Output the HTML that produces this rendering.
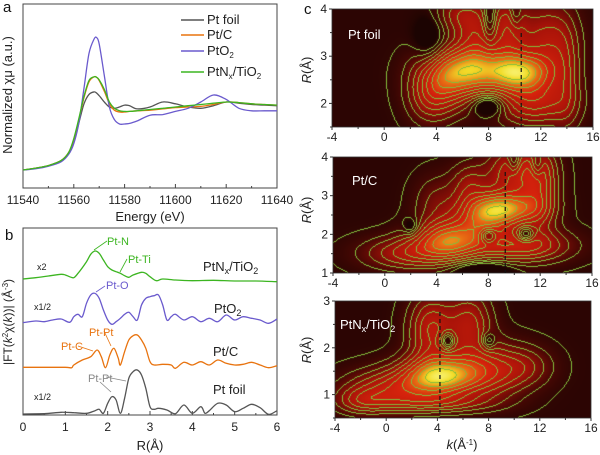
<!DOCTYPE html>
<html><head><meta charset="utf-8"><style>
body{margin:0;background:#fff;}
#root{position:relative;width:600px;height:455px;overflow:hidden;font-family:"Liberation Sans",Arial,sans-serif;}
svg{position:absolute;left:0;top:0;}
canvas{position:absolute;}
</style></head><body>
<div id="root">
<canvas id="c1" width="261" height="118" style="left:332px;top:9px"></canvas>
<canvas id="c2" width="259" height="116" style="left:333px;top:157px"></canvas>
<canvas id="c3" width="256" height="117" style="left:335px;top:301px"></canvas>
<svg id="s" width="600" height="455"></svg>
</div>
<script>
// ---- Panel a data ----
const energies=[11540,11545,11550,11555,11558,11560,11562,11564,11566,11568,11569,11570,11572,11574,11576,11578,11580,11582,11585,11590,11595,11600,11605,11610,11615,11620,11625,11630,11635,11640];
const xanesFoil=[0,0.03,0.07,0.15,0.27,0.45,0.75,1.05,1.2,1.24,1.22,1.18,1.08,1.0,0.98,1.0,1.03,1.02,0.97,1.0,1.08,1.05,1.0,0.98,1.02,1.08,1.06,1.04,1.03,1.02];
const xanesPtC=[0,0.03,0.07,0.15,0.28,0.48,0.8,1.15,1.4,1.48,1.47,1.42,1.25,1.05,0.95,0.92,0.92,0.93,0.94,0.95,0.97,0.99,1.0,1.01,1.04,1.08,1.07,1.05,1.04,1.03];
const xanesPtO2=[0,0.02,0.06,0.13,0.25,0.42,0.75,1.3,1.85,2.08,2.1,2.0,1.5,1.0,0.8,0.73,0.73,0.74,0.78,0.87,0.88,0.93,0.98,1.08,1.19,1.12,0.98,0.94,0.94,0.94];
const xanesPtNx=[0,0.03,0.07,0.15,0.28,0.5,0.82,1.17,1.42,1.48,1.47,1.43,1.28,1.08,0.98,0.94,0.93,0.93,0.94,0.96,0.98,1.0,1.02,1.04,1.06,1.08,1.07,1.05,1.04,1.03];
const energyTicks=[11540,11560,11580,11600,11620,11640];
// ---- Panel b data ----
const rFoil=[0,0.5,0.9,1.2,1.5,1.7,1.8,1.9,2.0,2.1,2.2,2.3,2.4,2.5,2.6,2.7,2.8,2.9,3.0,3.1,3.2,3.4,3.6,3.8,4.0,4.2,4.3,4.4,4.6,4.8,5.0,5.2,5.4,5.6,5.8,6.0];
const ftFoil=[3,4,8,7,5,13,17,5,35,55,45,5,50,110,130,135,120,80,25,17,20,15,4,30,5,25,5,13,35,30,10,20,32,22,2,13];
const rPtC=[0,0.5,1.0,1.15,1.2,1.4,1.6,1.75,1.85,1.95,2.05,2.15,2.25,2.3,2.4,2.5,2.6,2.7,2.8,2.9,3.0,3.1,3.3,3.5,3.6,3.8,4.0,4.2,4.4,4.6,4.8,5.0,5.2,5.4,5.6,5.8,6.0];
const ftPtC=[143,143,143,142,150,165,175,195,175,142,180,200,170,150,190,225,238,240,225,200,160,150,152,150,140,158,150,160,150,165,155,150,152,158,150,142,148];
const rPtO2=[0,0.3,0.5,0.7,0.9,1.1,1.2,1.3,1.4,1.5,1.6,1.7,1.8,1.9,2.0,2.1,2.2,2.3,2.4,2.5,2.6,2.7,2.8,2.9,3.0,3.1,3.2,3.3,3.4,3.5,3.6,3.8,4.0,4.2,4.4,4.6,4.8,5.0,5.2,5.4,5.6,5.8,6.0];
const ftPtO2=[277,282,280,285,288,278,295,302,295,335,360,365,350,315,285,272,280,290,302,308,295,285,330,350,355,358,360,330,285,295,302,285,295,280,290,280,300,285,295,290,285,275,288];
const rPtNx=[0,0.3,0.6,0.9,1.0,1.1,1.2,1.3,1.5,1.6,1.7,1.8,1.9,2.0,2.1,2.2,2.3,2.4,2.5,2.6,2.8,2.9,3.0,3.15,3.3,3.6,4.0,4.5,5.0,5.5,6.0];
const ftPtNx=[408,412,417,422,420,415,412,425,460,482,492,485,465,445,435,430,425,418,413,420,428,425,415,403,408,405,403,404,402,402,400];
const rTicks=[0,1,2,3,4,5,6];
// ---- Panel c data (k, R, sigmaK, sigmaR, amplitude) ----
const wtFoil=[[10.5,2.65,1.6,0.28,0.55],[7.0,2.7,2.2,0.35,0.55],[4.8,2.5,1.6,0.45,0.35],[3.5,2.1,1.2,0.4,0.2],[11.5,2.0,2.0,0.35,0.35],[12.5,3.3,1.5,0.6,0.3],[9.5,3.6,1.0,0.5,0.3],[7.0,3.5,1.0,0.5,0.25],[5.5,3.9,1.2,0.3,0.2],[14,2.5,0.8,0.8,0.15],[8,1.95,0.8,0.15,-0.25],[8.1,3.8,0.3,0.3,-0.2],[10.1,3.9,0.3,0.2,-0.15],[3.5,3.3,0.8,0.4,-0.15]];
const wtPtC=[[9.3,2.65,1.8,0.3,0.6],[5.0,1.85,1.8,0.35,0.55],[7.5,2.4,1.5,0.4,0.35],[2.0,1.5,2.5,0.3,0.3],[10.5,1.7,2.5,0.3,0.4],[12,2.7,1,0.5,0.2],[10,3.6,1.5,0.5,0.35],[12,3.6,1,0.5,0.25],[6.5,3.3,1,0.4,0.2],[4,2.8,1.2,0.5,0.15],[8,1.95,0.4,0.12,-0.3],[10.9,2.0,0.4,0.12,-0.3],[2,2.2,0.4,0.15,-0.15],[10,3.9,0.3,0.2,-0.2],[11.8,3.8,0.3,0.2,-0.2],[7.5,1.05,1.5,0.15,-0.2]];
const wtPtNx=[[4.2,1.4,2.0,0.3,0.7],[0.5,1.1,2.5,0.3,0.35],[8,1.5,2.0,0.4,0.35],[3.5,2.4,1.2,0.5,0.35],[6.5,2.5,1.2,0.5,0.3],[-2,0.85,1.5,0.2,0.2],[11,1.6,1.5,0.3,0.15],[4,0.8,3,0.15,0.2],[4.8,2.15,0.35,0.12,-0.3],[8,2.15,0.35,0.12,-0.2]];
const kTicks=[-4,0,4,8,12,16];
const dashK=[10.5,9.3,4.2];

const S=document.getElementById('s');const NS='http://www.w3.org/2000/svg';
function el(t,a,txt){const e=document.createElementNS(NS,t);for(const k in a)e.setAttribute(k,a[k]);if(txt!==undefined)e.textContent=txt;S.appendChild(e);return e;}
function lin(d0,d1,r0,r1){return v=>r0+(v-d0)/(d1-d0)*(r1-r0);}
function smooth(pts){let d='M'+pts[0][0]+','+pts[0][1];for(let i=0;i<pts.length-1;i++){const p0=pts[Math.max(0,i-1)],p1=pts[i],p2=pts[i+1],p3=pts[Math.min(pts.length-1,i+2)];const c1=[p1[0]+(p2[0]-p0[0])/6,p1[1]+(p2[1]-p0[1])/6],c2=[p2[0]-(p3[0]-p1[0])/6,p2[1]-(p3[1]-p1[1])/6];d+=`C${c1[0].toFixed(1)},${c1[1].toFixed(1)} ${c2[0].toFixed(1)},${c2[1].toFixed(1)} ${p2[0].toFixed(1)},${p2[1].toFixed(1)}`;}return d;}

// ---- Panel a ----
const ax=lin(11540,11640,23,277),ay=lin(0,1,170,107);
let r=el('rect',{x:23,y:4,width:254,height:184,fill:'none',stroke:'#444','stroke-width':1});

energyTicks.forEach(v=>{const x=ax(v);el('line',{x1:x,x2:x,y1:188,y2:184,stroke:'#444'});
 const t=el('text',{x:x,y:204,'font-size':12,'text-anchor':'middle',fill:'#222'},v);});
for(let v=11550;v<11640;v+=20){el('line',{x1:ax(v),x2:ax(v),y1:188,y2:186,stroke:'#444'});}
const aSeries=[[xanesFoil,'#555555','xanes-pt-foil'],[xanesPtC,'#e8730f','xanes-pt-c'],[xanesPtO2,'#6a5acd','xanes-pto2'],[xanesPtNx,'#3cb521','xanes-ptnx-tio2']];
aSeries.forEach(s=>{const p=el('path',{d:smooth(energies.map((e,i)=>[ax(e),ay(s[0][i])])),fill:'none',stroke:s[1],'stroke-width':1.3});});
let t=el('text',{x:150,y:221,'font-size':13,'text-anchor':'middle',fill:'#222'},'Energy (eV)');
t=el('text',{x:12,y:95,'font-size':13,'text-anchor':'middle',fill:'#222',transform:'rotate(-90 12 95)'},'Normalized χμ (a.u.)');
t=el('text',{x:3,y:12,'font-size':15,fill:'#111'},'a');
const leg=[['Pt foil','#555555',20],['Pt/C','#e8730f',35],['PtO','#6a5acd',51],['PtN','#3cb521',72]];
leg.forEach((l,i)=>{const g=el('line',{x1:181,x2:204,y1:l[2],y2:l[2],stroke:l[1],'stroke-width':1.5});
 const tx=el('text',{x:207,y:l[2]+4,'font-size':13,fill:'#222'});
 if(i<2)tx.textContent=l[0];else if(i==2)tx.innerHTML='PtO<tspan font-size="8" dy="3">2</tspan>';else tx.innerHTML='PtN<tspan font-size="8" dy="3">x</tspan><tspan dy="-3">/TiO</tspan><tspan font-size="8" dy="3">2</tspan>';});

// ---- Panel b ----
const bx=lin(0,6,23,277),by=lin(0,570,415,225);
r=el('rect',{x:23,y:228,width:254,height:187,fill:'none',stroke:'#444'});
rTicks.forEach(v=>{const x=bx(v);el('line',{x1:x,x2:x,y1:415,y2:411,stroke:'#444'});const tt=el('text',{x:x,y:431,'font-size':12,'text-anchor':'middle',fill:'#222'},v);});
for(let v=0.5;v<6;v+=1)el('line',{x1:bx(v),x2:bx(v),y1:415,y2:413,stroke:'#444'});
const bSeries=[[rFoil,ftFoil,'#555555','ft-pt-foil'],[rPtC,ftPtC,'#e8730f','ft-pt-c'],[rPtO2,ftPtO2,'#6a5acd','ft-pto2'],[rPtNx,ftPtNx,'#3cb521','ft-ptnx-tio2']];
bSeries.forEach(s=>{const p=el('path',{d:smooth(s[0].map((x,i)=>[bx(x),by(s[1][i])])),fill:'none',stroke:s[2],'stroke-width':1.3});});
t=el('text',{x:150,y:450,'font-size':13,'text-anchor':'middle',fill:'#222'},'R(Å)');
t=el('text',{x:12,y:322,'font-size':12,'text-anchor':'middle',fill:'#222',transform:'rotate(-90 12 322)'});t.innerHTML='|FT(<tspan font-style="italic">k</tspan><tspan font-size="8" dy="-4">2</tspan><tspan dy="4">χ(</tspan><tspan font-style="italic">k</tspan>))| (Å<tspan font-size="8" dy="-4">-3</tspan><tspan dy="4">)</tspan>';
t=el('text',{x:5,y:240,'font-size':15,fill:'#111'},'b');
const bTxt=[['x2',37,270,9,'#222'],['x1/2',34,310,9,'#222'],['x1/2',34,400,9,'#222'],['Pt foil',213,394,13,'#222'],['Pt/C',213,356,13,'#222'],['Pt-N',107,245,11,'#3cb521'],['Pt-Ti',128,263,11,'#3cb521'],['Pt-O',106,289,11,'#6a5acd'],['Pt-Pt',89,336,11,'#e8730f'],['Pt-C',61,350,11,'#e8730f'],['Pt-Pt',88,382,11,'#888']];
bTxt.forEach(a=>{const tt=el('text',{x:a[1],y:a[2],'font-size':a[3],fill:a[4]},a[0]);});
t=el('text',{x:203,y:271,'font-size':13,fill:'#222'});t.innerHTML='PtN<tspan font-size="9" dy="3">x</tspan><tspan dy="-3">/TiO</tspan><tspan font-size="9" dy="3">2</tspan>';
t=el('text',{x:214,y:313,'font-size':13,fill:'#222'});t.innerHTML='PtO<tspan font-size="9" dy="3">2</tspan>';
[[107,241,94,250,'#3cb521'],[127,259,120,272,'#3cb521'],[105,286,96,292,'#6a5acd'],[104,331,111,346,'#e8730f'],[78,346,93,351,'#e8730f'],[106,377,126,381,'#888'],[100,382,111,392,'#888']].forEach(l=>el('line',{x1:l[0],y1:l[1],x2:l[2],y2:l[3],stroke:l[4],'stroke-width':0.8}));

// ---- Panel c ----
const stops=[[0,[28,4,2]],[0.15,[75,8,4]],[0.35,[165,18,8]],[0.58,[215,35,12]],[0.74,[232,110,20]],[0.86,[242,220,40]],[0.95,[250,250,140]],[1,[255,255,255]]];
function cmap(f){f=Math.max(0,Math.min(1,f));for(let i=1;i<stops.length;i++){if(f<=stops[i][0]){const a=stops[i-1],b=stops[i],u=(f-a[0])/(b[0]-a[0]);return a[1].map((c,j)=>c+(b[1][j]-c)*u);}}return [255,255,255];}
const maps=[['c1',wtFoil,1.5,4,332,9,261,118],['c2',wtPtC,1,4,333,157,259,116],['c3',wtPtNx,0.5,3,335,301,256,117]];
maps.forEach((m,mi)=>{const cv=document.getElementById(m[0]),ctx=cv.getContext('2d'),W=m[6],H=m[7];const img=ctx.createImageData(W,H);
 const F=new Float32Array(W*H),L=new Int16Array(W*H);
 for(let j=0;j<H;j++)for(let i=0;i<W;i++){const k=-4+i/(W-1)*20,R=m[3]-j/(H-1)*(m[3]-m[2]);let f=0.03;
  for(const g of m[1])f+=g[4]*Math.exp(-((k-g[0])**2)/(2*g[2]*g[2])-((R-g[1])**2)/(2*g[3]*g[3]));
  f=Math.max(0,Math.min(1,f));F[j*W+i]=f;L[j*W+i]=Math.floor(Math.pow(f,0.8)*13);}
 for(let j=0;j<H;j++)for(let i=0;i<W;i++){const id=j*W+i;let c=cmap(Math.pow(F[id],0.85));const lv=L[id];
  if(lv>=1&&((i<W-1&&L[id+1]<lv)||(i>0&&L[id-1]<lv)||(j<H-1&&L[id+W]<lv)||(j>0&&L[id-W]<lv)))c=[130,190,60];
  img.data[id*4]=c[0];img.data[id*4+1]=c[1];img.data[id*4+2]=c[2];img.data[id*4+3]=255;}
 ctx.putImageData(img,0,0);
 const X=m[4],Y=m[5],kx=lin(-4,16,X,X+W),ry=lin(m[2],m[3],Y+H,Y);
 const fr=el('rect',{x:X,y:Y,width:W,height:H,fill:'none',stroke:'#333','stroke-width':0.8});
 kTicks.forEach(v=>{const x=kx(v);el('line',{x1:x,x2:x,y1:Y+H,y2:Y+H+3,stroke:'#333'});const tt=el('text',{x:x,y:Y+H+14,'font-size':12,'text-anchor':'middle',fill:'#222'},v);});
 for(let v=-2;v<16;v+=4)el('line',{x1:kx(v),x2:kx(v),y1:Y+H,y2:Y+H+2,stroke:'#333'});
 for(let v=Math.ceil(m[2]);v<=m[3];v++){const y=ry(v);el('line',{x1:X-3,x2:X,y1:y,y2:y,stroke:'#333'});const tt=el('text',{x:X-5,y:y+4,'font-size':12,'text-anchor':'end',fill:'#222'},v);}
 for(let v=Math.ceil(m[2]*2)/2;v<=m[3];v+=0.5)if(v%1)el('line',{x1:X-2,x2:X,y1:ry(v),y2:ry(v),stroke:'#333'});
 const dx=kx(dashK[mi]);const dl=el('line',{x1:dx,x2:dx,y1:[33,172,312][mi],y2:Y+H,stroke:'#111','stroke-width':1.2,'stroke-dasharray':'4,3'});
 const cy=[70,210,350][mi];const yt=el('text',{x:311,y:cy,'font-size':13,'text-anchor':'middle',fill:'#222',transform:`rotate(-90 311 ${cy})`});yt.innerHTML='<tspan font-style="italic">R</tspan>(Å)';
});
t=el('text',{x:348,y:39,'font-size':13,fill:'#fff'},'Pt foil');
t=el('text',{x:352,y:185,'font-size':13,fill:'#fff'},'Pt/C');
t=el('text',{x:340,y:329,'font-size':13,fill:'#fff'});t.innerHTML='PtN<tspan font-size="9" dy="3">x</tspan><tspan dy="-3">/TiO</tspan><tspan font-size="9" dy="3">2</tspan>';
t=el('text',{x:462,y:449,'font-size':13,'text-anchor':'middle',fill:'#222'});t.innerHTML='<tspan font-style="italic">k</tspan>(Å<tspan font-size="8" dy="-4">-1</tspan><tspan dy="4">)</tspan>';
t=el('text',{x:304,y:14,'font-size':15,fill:'#111'},'c');
</script>
</body></html>
